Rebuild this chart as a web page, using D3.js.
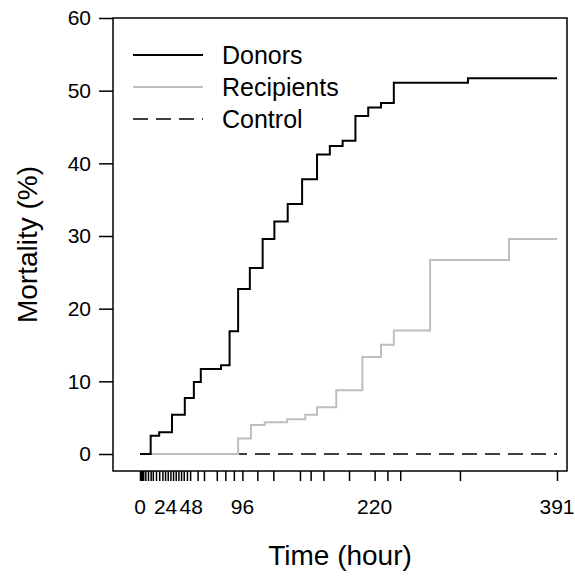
<!DOCTYPE html>
<html>
<head>
<meta charset="utf-8">
<script src="https://cdn.jsdelivr.net/npm/d3@7"></script>
<style>
  html, body { margin: 0; padding: 0; background: #fff; }
  svg { display: block; font-family: "Liberation Sans", Arial, Helvetica, sans-serif; }
</style>
</head>
<body>
<svg id="chart" width="575" height="581"></svg>
<script>
// ---- data ----
const donorTime = [0, 10, 18, 30, 42, 50.5, 57, 76, 84, 92, 103, 115, 126, 138.5, 152, 166, 178, 190, 202, 214, 226, 238, 307.5, 391];
const donorMort = [0, 2.5, 3.0, 5.4, 7.7, 9.9, 11.7, 12.2, 16.9, 22.7, 25.6, 29.6, 32.0, 34.4, 37.8, 41.2, 42.4, 43.1, 46.5, 47.7, 48.3, 51.1, 51.7, 51.7];
const recipTime = [0, 92, 104, 117, 138, 155, 166, 184, 208.5, 226, 238, 272, 346, 391];
const recipMort = [0, 2.15, 4.0, 4.36, 4.77, 5.41, 6.42, 8.76, 13.35, 15.04, 17.0, 26.7, 29.6, 29.6];
const controlTime = [0, 391];
const controlMort = [0, 0];
const rugTicks = [0, 1, 2, 3, 5, 7.5, 10, 12, 15, 18, 21, 23.5, 26, 28.5, 31, 33.5, 36, 38.5, 41, 44, 47, 54, 60, 72, 80, 88, 96, 110, 125, 150, 160, 172, 196, 220, 232, 244, 300, 391];
const xLabels = [0, 24, 48, 96, 220, 391];
const yTicks = [0, 10, 20, 30, 40, 50, 60];
const seriesNames = ["Donors", "Recipients", "Control"];

// ---- layout ----
const svg = d3.select("#chart");
const x = d3.scaleLinear().domain([0, 391]).range([140, 557]);
const y = d3.scaleLinear().domain([0, 60]).range([454, 18]);
const box = {left: 113, top: 18, right: 567, bottom: 471};
const font = '"Liberation Sans", Arial, Helvetica, sans-serif';

const styles = {
  Donors: {stroke: "#000", width: 2, dash: null},
  Recipients: {stroke: "#bebebe", width: 2, dash: null},
  Control: {stroke: "#000", width: 1.5, dash: "15,8"}
};

const zip = (t, v) => t.map((d, i) => ({t: d, v: v[i]}));
const series = [
  {name: "Control", data: zip(controlTime, controlMort)},
  {name: "Recipients", data: zip(recipTime, recipMort)},
  {name: "Donors", data: zip(donorTime, donorMort)}
];

const line = d3.line().x(d => x(d.t)).y(d => y(d.v)).curve(d3.curveStepAfter);

svg.selectAll("path.series").data(series).join("path")
  .attr("class", "series")
  .attr("fill", "none")
  .attr("d", d => line(d.data))
  .attr("stroke", d => styles[d.name].stroke)
  .attr("stroke-width", d => styles[d.name].width)
  .attr("stroke-dasharray", d => styles[d.name].dash);

// box
svg.append("rect")
  .attr("x", box.left).attr("y", box.top)
  .attr("width", box.right - box.left).attr("height", box.bottom - box.top)
  .attr("fill", "none").attr("stroke", "#000").attr("stroke-width", 1.5);

// y axis
const yAxis = d3.axisLeft(y).tickValues(yTicks).tickSize(14).tickPadding(8);
const gy = svg.append("g").attr("transform", `translate(${box.left},0)`).call(yAxis);
gy.select(".domain").remove();
gy.selectAll(".tick line").attr("stroke", "#000").attr("stroke-width", 1.5);
gy.selectAll(".tick text").attr("font-size", 21).attr("font-family", font).attr("fill", "#000");

// x axis: rug-like ticks
const xAxis = d3.axisBottom(x).tickValues(rugTicks).tickSize(10).tickFormat("");
const gx = svg.append("g").attr("transform", `translate(0,${box.bottom})`).call(xAxis);
gx.select(".domain").remove();
gx.selectAll(".tick line").attr("stroke", "#000").attr("stroke-width", 1.5);

svg.append("g").selectAll("text").data(xLabels).join("text")
  .attr("x", d => x(d)).attr("y", 514)
  .attr("text-anchor", "middle")
  .attr("font-size", 21).attr("font-family", font)
  .text(d => d);

// axis titles
svg.append("text")
  .attr("x", (box.left + box.right) / 2).attr("y", 565)
  .attr("text-anchor", "middle").attr("font-size", 28).attr("font-family", font)
  .text("Time (hour)");
svg.append("text")
  .attr("transform", `translate(37,${(box.top + box.bottom) / 2}) rotate(-90)`)
  .attr("text-anchor", "middle").attr("font-size", 28).attr("font-family", font)
  .text("Mortality (%)");

// legend
const leg = svg.append("g").selectAll("g").data(seriesNames).join("g")
  .attr("transform", (d, i) => `translate(0,${55 + i * 32})`);
leg.append("line")
  .attr("x1", 133).attr("x2", 203).attr("y1", 0).attr("y2", 0)
  .attr("stroke", d => styles[d].stroke)
  .attr("stroke-width", d => styles[d].width)
  .attr("stroke-dasharray", d => styles[d].dash);
leg.append("text")
  .attr("x", 222).attr("y", 0).attr("dy", "0.35em")
  .attr("font-size", 25).attr("font-family", font)
  .text(d => d);
</script>
</body>
</html>
